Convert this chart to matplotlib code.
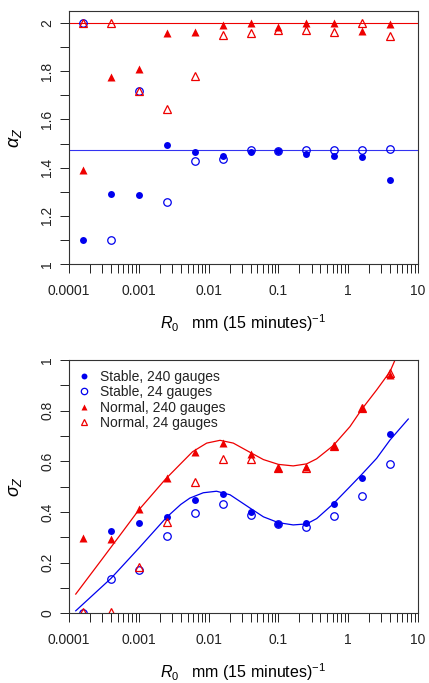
import matplotlib
matplotlib.use("Agg")
import matplotlib.pyplot as plt
import numpy as np
from matplotlib.ticker import LogLocator, MultipleLocator, FixedFormatter, FixedLocator

plt.rcParams["font.family"] = ["Liberation Sans", "DejaVu Sans"]
plt.rcParams["mathtext.fontset"] = "custom"
plt.rcParams["mathtext.rm"] = "Liberation Sans"
plt.rcParams["mathtext.it"] = "Liberation Sans:italic"

# rain-rate levels (x positions of the markers)
r0 = [0.00016, 0.0004, 0.001, 0.0025, 0.0063, 0.016, 0.04, 0.1, 0.25, 0.63, 1.6, 4.0]

# top panel: alpha_Z
alpha_stable_240 = [1.10, 1.29, 1.287, 1.493, 1.463, 1.450, 1.463, 1.470, 1.456, 1.448, 1.443, 1.347]
alpha_stable_24 = [2.0, 1.10, 1.72, 1.257, 1.428, 1.435, 1.475, 1.470, 1.475, 1.475, 1.475, 1.478]
alpha_normal_240 = [1.388, 1.776, 1.808, 1.958, 1.962, 1.99, 2.0, 1.985, 2.0, 2.0, 1.968, 1.994]
alpha_normal_24 = [2.0, 2.0, 1.718, 1.642, 1.78, 1.952, 1.96, 1.972, 1.972, 1.962, 1.999, 1.945]
alpha_normal_ref = 2.0
alpha_stable_ref = 1.471

# bottom panel: sigma_Z
sigma_stable_240 = [np.nan, 0.326, 0.355, 0.379, 0.446, 0.470, 0.401, 0.354, 0.357, 0.432, 0.536, 0.709]
sigma_stable_24 = [0.003, 0.137, 0.171, 0.307, 0.397, 0.430, 0.389, 0.353, 0.341, 0.384, 0.464, 0.591]
sigma_normal_240 = [0.297, 0.292, 0.412, 0.533, 0.638, 0.671, 0.630, 0.575, 0.578, 0.662, 0.809, 0.941]
sigma_normal_24 = [0.005, 0.005, 0.184, 0.362, 0.52, 0.609, 0.609, 0.572, 0.572, 0.659, 0.809, 0.949]

# fitted curves
fit_normal_x = [1.25e-4, 3.0e-4, 5.2e-4, 1.0e-3, 2.4e-3, 4.2e-3, 5.9e-3, 9.4e-3, 0.0146, 0.0226,
                0.039, 0.061, 0.1, 0.163, 0.254, 0.354, 0.61, 1.06, 1.56, 2.56, 3.97, 4.69]
fit_normal_y = [0.076, 0.215, 0.303, 0.408, 0.529, 0.597, 0.638, 0.672, 0.683, 0.672,
                0.636, 0.607, 0.588, 0.582, 0.590, 0.610, 0.662, 0.737, 0.805, 0.882, 0.954, 1.0]
fit_stable_x = [1.25e-4, 4.0e-4, 1.0e-3, 2.5e-3, 4.0e-3, 5.4e-3, 8.4e-3, 0.013, 0.0203, 0.039,
                0.061, 0.1, 0.163, 0.254, 0.354, 0.61, 1.06, 1.56, 2.56, 3.97, 7.26]
fit_stable_y = [0.010, 0.138, 0.257, 0.379, 0.430, 0.455, 0.476, 0.482, 0.468, 0.416,
                0.381, 0.358, 0.349, 0.353, 0.374, 0.432, 0.500, 0.548, 0.612, 0.684, 0.767]

xticks = [0.0001, 0.001, 0.01, 0.1, 1, 10]
xticklabels = ["0.0001", "0.001", "0.01", "0.1", "1", "10"]
xlabel = r"$R_0$   mm (15 minutes)$^{-1}$"

BLUE = "#0000ee"
RED = "#ee0000"


def style_axes(ax, ylim, ymajor, labels):
    ax.set_xscale("log")
    ax.set_xlim(1e-4, 10)
    ax.set_ylim(*ylim)
    ax.xaxis.set_major_locator(FixedLocator(xticks))
    ax.xaxis.set_major_formatter(FixedFormatter(xticklabels))
    ax.xaxis.set_minor_locator(LogLocator(base=10, subs=np.arange(2, 10)))
    ax.xaxis.set_minor_formatter(FixedFormatter([]))
    ax.yaxis.set_major_locator(FixedLocator(ymajor))
    ax.yaxis.set_major_formatter(FixedFormatter(labels))
    ax.yaxis.set_minor_locator(MultipleLocator(0.1))
    ax.tick_params(which="both", direction="out", length=6.5, width=0.7, colors="#222222",
                   labelsize=10, labelcolor="#222222")
    ax.tick_params(axis="x", pad=8)
    ax.tick_params(axis="y", pad=4)
    for lab in ax.get_yticklabels():
        lab.set_rotation(90)
        lab.set_va("center")
    for s in ax.spines.values():
        s.set_linewidth(0.8)
        s.set_color("#333333")
    ax.set_xlabel(xlabel, fontsize=11.5, labelpad=10)


fig = plt.figure(figsize=(4.29, 6.83), dpi=100)
ax1 = fig.add_axes([0.1608, 0.6135, 0.8135, 0.3704])
ax2 = fig.add_axes([0.1608, 0.1020, 0.8135, 0.3709])

ms_fill = 5.0
ms_open = 5.4
ms_tri = 5.8

# -- top panel ---------------------------------------------
ax1.axhline(alpha_normal_ref, color=RED, lw=0.8)
ax1.axhline(alpha_stable_ref, color=BLUE, lw=0.8, alpha=0.8)
ax1.plot(r0, alpha_stable_240, "o", color=BLUE, ms=ms_fill, mec="none")
ax1.plot(r0, alpha_stable_24, "o", mfc="none", mec=BLUE, ms=ms_open, mew=0.9)
ax1.plot(r0, alpha_normal_240, "^", color=RED, ms=ms_tri, mec="none")
ax1.plot(r0, alpha_normal_24, "^", mfc="none", mec=RED, ms=ms_tri, mew=0.9)
style_axes(ax1, (1, 2.05), [1, 1.2, 1.4, 1.6, 1.8, 2.0], ["1", "1.2", "1.4", "1.6", "1.8", "2"])
ax1.set_ylabel(r"$\alpha_Z$", fontsize=13, labelpad=12)

# -- bottom panel ------------------------------------------
ax2.plot(fit_normal_x, fit_normal_y, "-", color=RED, lw=0.9)
ax2.plot(fit_stable_x, fit_stable_y, "-", color=BLUE, lw=0.9)
ax2.plot(r0, sigma_stable_240, "o", color=BLUE, ms=ms_fill, mec="none", label="Stable, 240 gauges")
ax2.plot(r0, sigma_stable_24, "o", mfc="none", mec=BLUE, ms=ms_open, mew=0.9, label="Stable, 24 gauges")
ax2.plot(r0, sigma_normal_240, "^", color=RED, ms=ms_tri, mec="none", label="Normal, 240 gauges")
ax2.plot(r0, sigma_normal_24, "^", mfc="none", mec=RED, ms=ms_tri, mew=0.9, label="Normal, 24 gauges")
style_axes(ax2, (0, 1), [0, 0.2, 0.4, 0.6, 0.8, 1.0], ["0", "0.2", "0.4", "0.6", "0.8", "1"])
ax2.set_ylabel(r"$\sigma_Z$", fontsize=13, labelpad=12)
leg = ax2.legend(loc="upper left", frameon=False, fontsize=10, handlelength=0.8,
                 handletextpad=0.7, labelspacing=0.1, borderaxespad=0.3,
                 borderpad=0.4, markerscale=0.85, labelcolor="#222222")

fig.savefig("out.png", dpi=100)
